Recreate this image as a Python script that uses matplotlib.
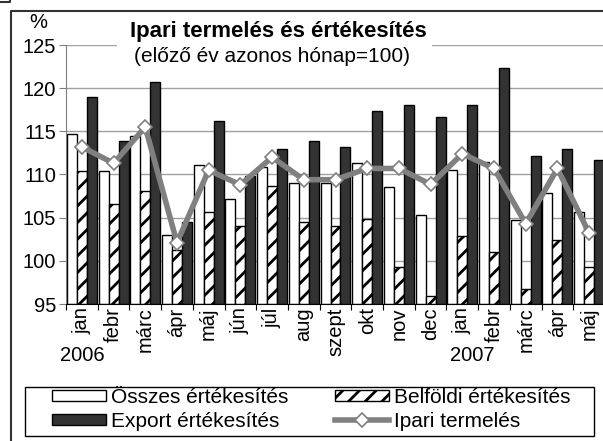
import matplotlib
matplotlib.use('Agg')
import matplotlib.pyplot as plt
import numpy as np
from matplotlib.lines import Line2D
from matplotlib.patches import Rectangle

plt.rcParams['font.family'] = ['Liberation Sans', 'DejaVu Sans']
plt.rcParams['hatch.linewidth'] = 2.0

months = ['jan', 'febr', 'márc', 'ápr', 'máj', 'jún', 'júl', 'aug', 'szept',
          'okt', 'nov', 'dec', 'jan', 'febr', 'márc', 'ápr', 'máj']
years = ['2006', '2007']
osszes = [114.7, 110.35, 114.5, 103.05, 111.1, 107.2, 110.9, 109.05, 109.0,
          111.35, 108.6, 105.3, 110.55, 111.5, 104.7, 107.9, 105.6]
belfoldi = [110.4, 106.55, 108.1, 101.2, 105.7, 104.0, 108.7, 104.55, 104.0,
            104.9, 99.3, 95.9, 102.9, 101.0, 96.7, 102.4, 99.25]
export = [119.0, 113.9, 120.7, 104.55, 116.15, 109.8, 113.0, 113.9, 113.2,
          117.3, 118.1, 116.7, 118.1, 122.3, 112.2, 113.0, 111.7]
ipari = [113.2, 111.3, 115.5, 102.1, 110.5, 108.8, 112.0, 109.4, 109.4,
         110.7, 110.7, 108.85, 112.4, 110.7, 104.3, 110.7, 103.2]

W, H = 603, 441
fs = 14.5
fig = plt.figure(figsize=(W / 100, H / 100), dpi=100)
ax = fig.add_axes([66 / W, 1 - 304 / H, 539 / W, (304 - 45) / H])

x = np.arange(len(months))
bw = 0.315
base = 95
b1 = ax.bar(x - bw, np.array(osszes) - base, bw, bottom=base, color='white',
            edgecolor='black', linewidth=1, label='Összes értékesítés', zorder=2)
b2 = ax.bar(x, np.array(belfoldi) - base, bw, bottom=base, color='white',
            edgecolor='black', linewidth=1, hatch='//', label='Belföldi értékesítés', zorder=2)
b3 = ax.bar(x + bw, np.array(export) - base, bw, bottom=base, color='#333333',
            edgecolor='black', linewidth=1, label='Export értékesítés', zorder=2)
ln, = ax.plot(x, ipari, color='#808080', lw=4, marker='D', ms=7.5, mfc='white',
              mec='#808080', mew=1.2, label='Ipari termelés', zorder=3)

ax.set_xlim(-0.5, len(months) - 0.5)
ax.set_ylim(95, 125)
ax.set_yticks(range(95, 126, 5))
ax.yaxis.grid(True, color='#a0a0a0', lw=1)
ax.set_axisbelow(True)
ax.set_xticks(np.arange(len(months) + 1) - 0.5)
ax.set_xticklabels([])
for i, m in enumerate(months):
    ax.text(i, 94.6, m, rotation=90, ha='center', va='top', fontsize=fs)
ax.text(0, 89.0, years[0], ha='center', va='center', fontsize=fs)
ax.text(12.3, 89.0, years[1], ha='center', va='center', fontsize=fs)
ax.tick_params(axis='y', labelsize=fs, length=5, color='#808080', pad=2)
ax.tick_params(axis='x', length=4, color='black')
for s in ['top', 'right']:
    ax.spines[s].set_visible(False)
ax.spines['left'].set_color('#808080')
ax.spines['bottom'].set_color('black')

# frames
fig.add_artist(Line2D([0, 10 / W, 10 / W], [1 - 2 / H, 1 - 2 / H, 1], color='#333333', lw=1.5))
fig.add_artist(Line2D([1, 11 / W, 11 / W], [1 - 11 / H, 1 - 11 / H, 0], color='#333333', lw=1.5))

# title box
fig.add_artist(Rectangle((117 / W, 1 - 70 / H), 315 / W, 57 / H, facecolor='white',
                         edgecolor='none', transform=fig.transFigure, zorder=1))
fig.text(278 / W, 1 - 31 / H, 'Ipari termelés és értékesítés', ha='center', va='center',
         fontsize=16, fontweight='bold', zorder=2)
fig.text(272 / W, 1 - 56 / H, '(előző év azonos hónap=100)', ha='center', va='center',
         fontsize=15, zorder=2)
fig.text(38 / W, 1 - 22 / H, '%', ha='center', va='center', fontsize=fs)

# legend
fig.add_artist(Rectangle((25 / W, 1 - 436 / H), 569 / W, 49 / H, facecolor='white',
                         edgecolor='black', lw=1, transform=fig.transFigure, zorder=1))
handles = [b1, b3, b2, ln]
labels = [h.get_label() for h in handles]
leg = fig.legend(handles, labels, ncol=2,
                 loc='upper left', bbox_to_anchor=(50 / W, 1 - 386 / H),
                 fontsize=15, frameon=False, handlelength=2.6, handleheight=0.45,
                 borderaxespad=0, borderpad=0.1, labelspacing=0.22,
                 handletextpad=0.25, columnspacing=2.2)
leg.set_zorder(2)

fig.savefig('out.png', dpi=100)
